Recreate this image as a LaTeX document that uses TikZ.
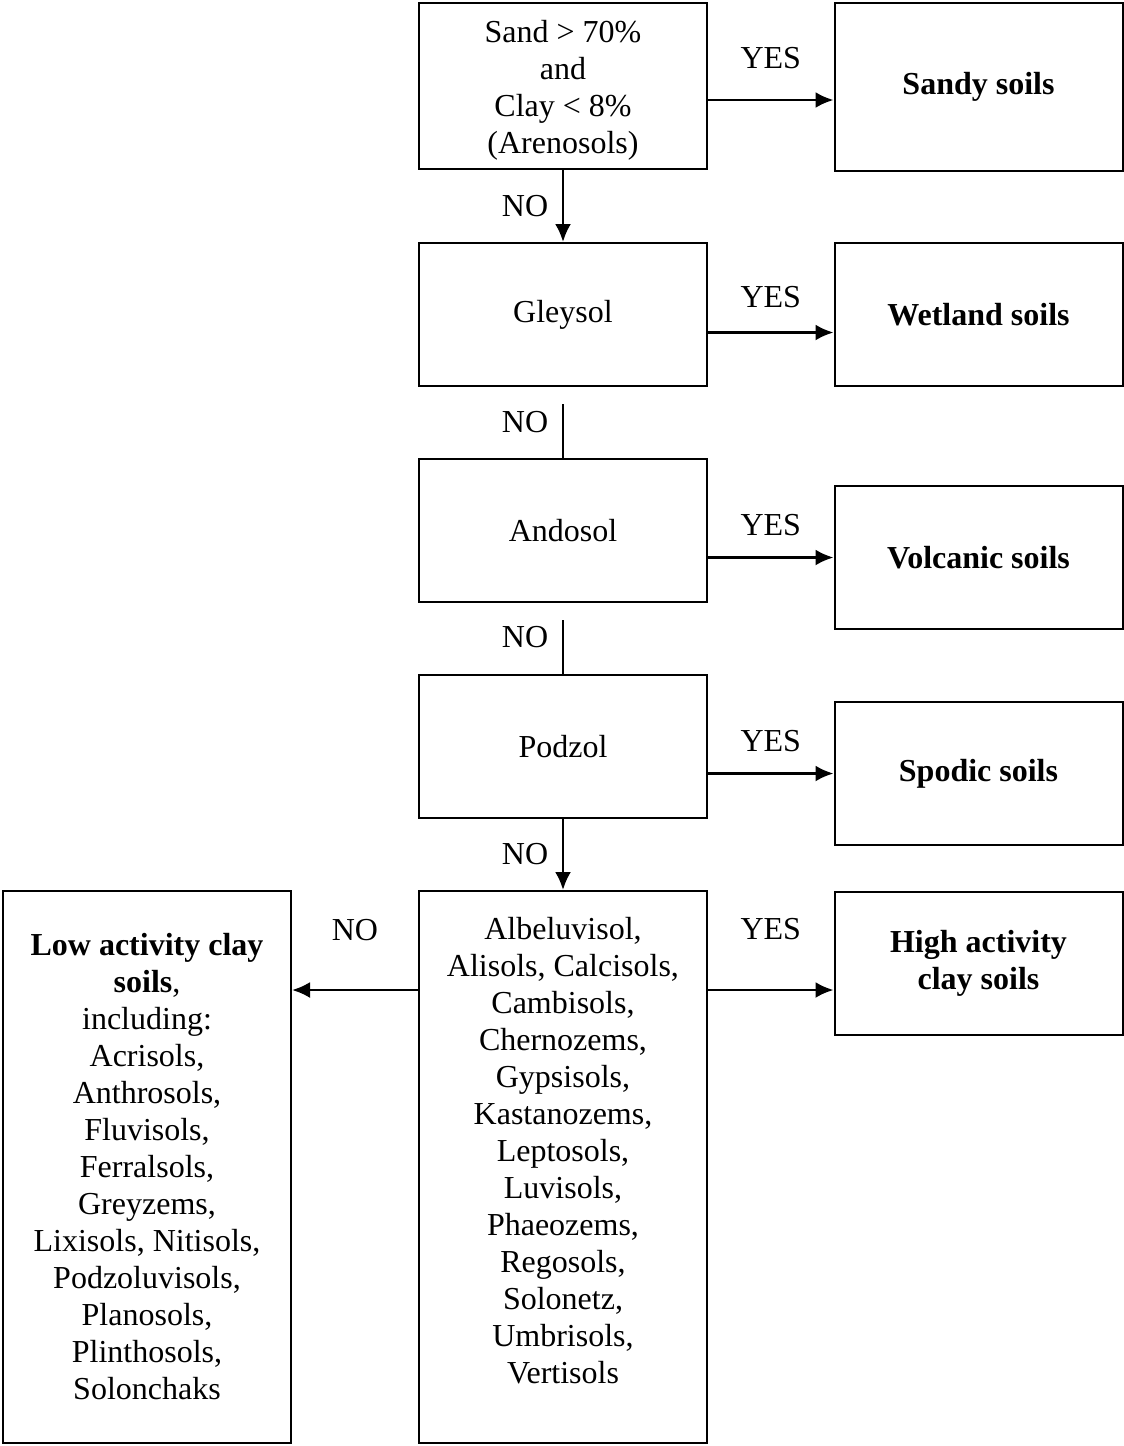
\documentclass[tikz,border=0pt]{standalone}
\usepackage{fontspec}
\setmainfont{Liberation Serif}
\usetikzlibrary{arrows.meta}

\begin{document}
\begin{tikzpicture}
[x=0.5pt,y=-0.5pt,%
  every node/.style={align=center,inner sep=0pt},%
  soilbox/.style={draw,line width=1pt,minimum width=144pt,minimum height=71.5pt},%
  link/.style={line width=1.3pt},%
  >={Latex[length=9pt,width=8pt]}]
\fontsize{16}{18.5}\selectfont
\useasboundingbox (0,0) rectangle (1124,1446);
% decision column
\node[soilbox,minimum height=83pt] (sand) at (563,86) {};
\node (sandtext) at ([yshift=-2pt]sand.center) {Sand > 70\%\\and\\Clay < 8\%\\(Arenosols)};
\node[soilbox] (gley) at (563,314.5) {Gleysol};
\node[soilbox] (ando) at (563,530.5) {Andosol};
\node[soilbox] (podz) at (563,746.5) {Podzol};
\node[soilbox,minimum height=276pt] (list) at (563,1167) {};
\node[anchor=north] (listtext) at ([yshift=-13.5pt]list.north)
  {Albeluvisol,\\Alisols, Calcisols,\\Cambisols,\\Chernozems,\\Gypsisols,\\Kastanozems,\\Leptosols,\\Luvisols,\\Phaeozems,\\Regosols,\\Solonetz,\\Umbrisols,\\Vertisols};
\coordinate (split) at ([yshift=-50pt]list.north);
% result boxes
\node[soilbox,minimum height=84pt] (sandy) at (978.5,87) {\textbf{Sandy soils}};
\node[soilbox] (wet) at (978.5,314.5) {\textbf{Wetland soils}};
\node[soilbox] (volc) at (978.5,557.5) {\textbf{Volcanic soils}};
\node[soilbox] (spod) at (978.5,773.5) {\textbf{Spodic soils}};
\node[soilbox] (high) at (978.5,963) {\textbf{High activity}\\\textbf{clay soils}};
\node[soilbox,minimum height=276pt] (low) at (147,1167)
  {\textbf{Low activity clay}\\\textbf{soils},\\including:\\Acrisols,\\Anthrosols,\\Fluvisols,\\Ferralsols,\\Greyzems,\\Lixisols, Nitisols,\\Podzoluvisols,\\Planosols,\\Plinthosols,\\Solonchaks};
% YES branches
\path
([yshift=-7pt]sand.east) edge[->,link] node[midway,yshift=21pt] {YES} ([yshift=-6.5pt]sandy.west)
([yshift=-9pt]gley.east) edge[->,link] node[midway,yshift=17.5pt] {YES} ([yshift=-9pt]wet.west)
(ando.east |- volc.west) edge[->,link] node[midway,yshift=16pt] {YES} (volc.west)
(podz.east |- spod.west) edge[->,link] node[midway,yshift=16pt] {YES} (spod.west)
(list.east |- split) edge[->,link] node[midway,yshift=30.5pt] {YES} (high.west |- split);
% NO branches
\path
(sand) edge[->,link] node[midway,xshift=-19pt] {NO} (gley)
([yshift=-8.5pt]gley.south) edge[link] node[midway,xshift=-19pt,yshift=4.5pt] {NO} (ando.north)
([yshift=-8.5pt]ando.south) edge[link] node[midway,xshift=-19pt,yshift=5pt] {NO} (podz.north)
(podz) edge[->,link] node[midway,xshift=-19pt] {NO} (list)
(list.west |- split) edge[->,link] node[midway,yshift=30pt] {NO} (low.east |- split);
\end{tikzpicture}
\end{document}
